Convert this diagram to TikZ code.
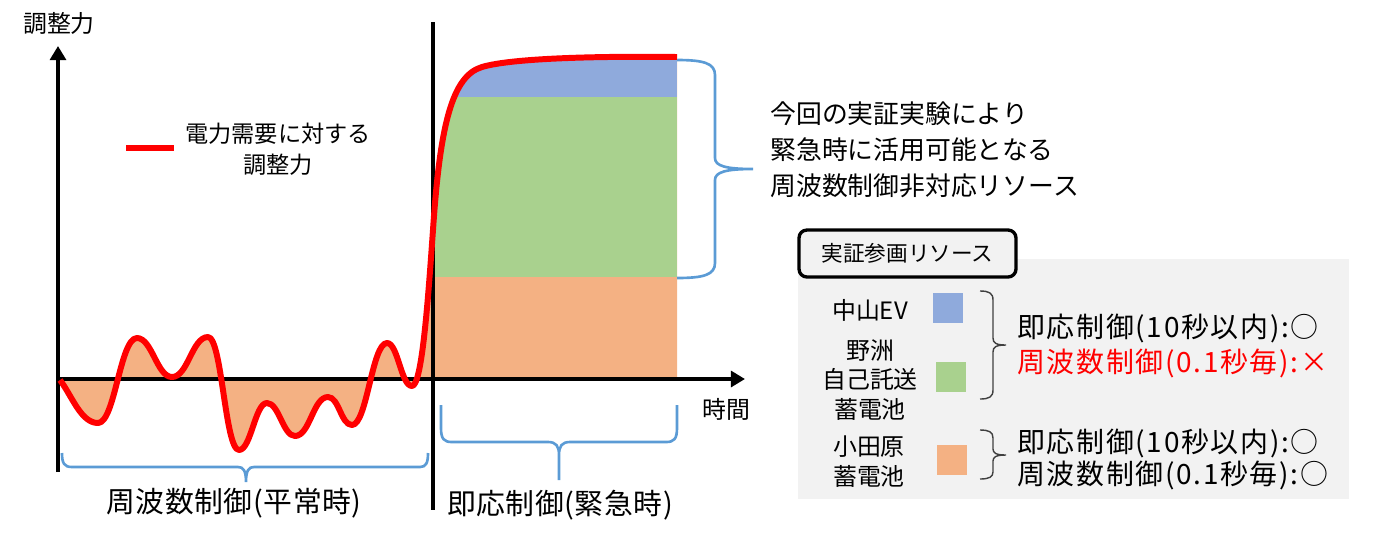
\documentclass[tikz,border=0pt]{standalone}
\usepackage{fontspec}
\setmainfont{Noto Sans CJK JP}
\usetikzlibrary{positioning,arrows.meta}
\definecolor{AdjRed}{RGB}{255,0,0}
\definecolor{ResBlue}{RGB}{143,170,220}
\definecolor{ResGreen}{RGB}{169,209,142}
\definecolor{ResOrange}{RGB}{244,177,131}
\definecolor{BraceBlue}{RGB}{91,155,213}
\definecolor{PanelGray}{RGB}{242,242,242}
\definecolor{BraceGray}{RGB}{64,64,64}
\tikzset{
  axisline/.style={line width=2.3pt,-{Triangle[length=8pt,width=9pt]}},
  adjline/.style={draw=AdjRed,line width=3.4pt,line join=round},
  bluebrace/.style={draw=BraceBlue,line width=1.5pt},
  graybrace/.style={draw=BraceGray,line width=0.8pt},
  txt/.style={inner sep=0pt,align=center},
  smalltxt/.style={txt,font=\fontsize{13.6}{17}\selectfont},
  bigtxt/.style={txt,font=\fontsize{16.4}{20}\selectfont\addfontfeature{LetterSpace=2}},
  status/.style={inner sep=0pt,anchor=west,font=\fontsize{15.9}{19}\selectfont\addfontfeature{LetterSpace=6}},
  swatch/.style={minimum size=0.6cm,inner sep=0pt},
  headbox/.style={draw,line width=1.9pt,rounded corners=4.5pt,fill=PanelGray,
    minimum width=4.34cm,minimum height=0.94cm,inner sep=0pt,
    font=\fontsize{12.3}{15}\selectfont}
}
\newcommand{\adjcurve}{.. controls (72,396) and (81,423) .. (98,423)
  .. controls (115,423) and (120,338) .. (137,338)
  .. controls (152,338) and (157,377) .. (172,377)
  .. controls (188,377) and (192,337) .. (208,337)
  .. controls (222,337) and (225,450) .. (239,450)
  .. controls (251,450) and (255,403) .. (267,403)
  .. controls (279,403) and (283,436) .. (295,436)
  .. controls (310,436) and (313,397) .. (328,397)
  .. controls (339,397) and (341,425) .. (352,425)
  .. controls (367,425) and (372,343) .. (387,343)
  .. controls (398,343) and (401,386) .. (412,386)
  .. controls (422,386) and (428,300) .. (433,230)
  .. controls (440,125) and (452,76) .. (482,67)
  .. controls (512,58) and (600,56) .. (677,57)}

\begin{document}
\begin{tikzpicture}[x=0.02cm,y=-0.02cm]
  \useasboundingbox (0,0) rectangle (1380,539);
  \coordinate (orig) at (58,379);
  \coordinate (ybot) at (58,472);
  \coordinate (ytip) at (58,46);
  \coordinate (xtip) at (745,379);
  \coordinate (sw0) at (60,380);
  \coordinate (sw1) at (677,379);
  \coordinate (midtop) at (433,22);
  \coordinate (midbot) at (433,510);

  % resources stacked under the curve
  \fill[ResOrange] (sw0) \adjcurve -- (sw1) -- cycle;
  \begin{scope}
    \clip (sw0) \adjcurve -- (sw1) -- cycle;
    \fill[ResGreen] (400,97) rectangle (677,277);
    \fill[ResBlue] (400,30) rectangle (677,97);
  \end{scope}

  \draw[axisline] (ybot) -- (ytip);
  \draw[axisline] (orig) -- (xtip);
  \draw[line width=2.3pt] (midtop) -- (midbot);
  \draw[adjline] (sw0) \adjcurve;

  \node[smalltxt] (ylab) at (59,23) {調整力};
  \node[smalltxt] (tlab) at (726,409) {時間};
  \draw[adjline] (126,148) -- (174,148);
  \node[txt,font=\fontsize{13.2}{17.6}\selectfont] (legtxt) at (278,149) {電力需要に対する\\調整力};

  % braces
  \draw[bluebrace] (677,60) .. controls (703,60) and (715,63) .. (715,75) -- (715,158)
    .. controls (715,166) and (726,169) .. (753,169)
    .. controls (726,169) and (715,172) .. (715,180) -- (715,263)
    .. controls (715,275) and (703,278) .. (677,278);
  \draw[bluebrace] (62,453) .. controls (62,463) and (64,467) .. (72,467) -- (238,467)
    .. controls (243,467) and (246,470) .. (246,482)
    .. controls (246,470) and (249,467) .. (254,467) -- (420,467)
    .. controls (426,467) and (428,463) .. (428,453);
  \draw[bluebrace] (441,405) -- (441,428) .. controls (441,439) and (444,442) .. (452,442) -- (548,442)
    .. controls (556,442) and (559,446) .. (559,455) -- (559,480)
    (559,455) .. controls (559,446) and (562,442) .. (570,442) -- (666,442)
    .. controls (674,442) and (677,439) .. (677,428) -- (677,405);

  \node[bigtxt] (normlab) at (234,503) {周波数制御(平常時)};
  \node[bigtxt] (emerlab) at (560,505) {即応制御(緊急時)};
  \node[txt,align=left,anchor=west,font=\fontsize{14.7}{20.4}\selectfont] (note) at (770,150)
    {今回の実証実験により\\緊急時に活用可能となる\\周波数制御非対応リソース};

  % participating resources
  \fill[PanelGray] (798,259) rectangle (1349,499);
  \node[headbox] (reshead) at (907.5,253.5) {実証参画リソース};

  \node[smalltxt] (nakayama) at (870,310) {中山EV};
  \node[txt,font=\fontsize{13.6}{17}\selectfont] (yasu) at (870,380) {野洲\\自己託送\\蓄電池};
  \node[txt,font=\fontsize{13.6}{17}\selectfont] (odawara) at (869,462) {小田原\\蓄電池};
  \node[swatch,fill=ResBlue] (sqblue) at (948,308) {};
  \node[swatch,fill=ResGreen] (sqgreen) at (950.5,377) {};
  \node[swatch,fill=ResOrange] (sqorange) at (952,460) {};

  \draw[graybrace] (980,291) .. controls (989,291) and (993,293) .. (993,300) -- (993,338)
    .. controls (993,343) and (996,345) .. (1006,345)
    .. controls (996,345) and (993,347) .. (993,352) -- (993,390)
    .. controls (993,397) and (989,399) .. (980,399);
  \draw[graybrace] (980,430) .. controls (989,430) and (993,432) .. (993,438) -- (993,449)
    .. controls (993,453) and (996,455) .. (1006,455)
    .. controls (996,455) and (993,457) .. (993,461) -- (993,472)
    .. controls (993,477) and (989,479) .. (980,479);

  \node[status] (ctla1) at (1017,328) {即応制御(10秒以内):○};
  \node[status,text=AdjRed] (ctla2) at (1017,363) {周波数制御(0.1秒毎):×};
  \node[status] (ctlb1) at (1017,443) {即応制御(10秒以内):○};
  \node[status] (ctlb2) at (1017,475) {周波数制御(0.1秒毎):○};
\end{tikzpicture}
\end{document}
